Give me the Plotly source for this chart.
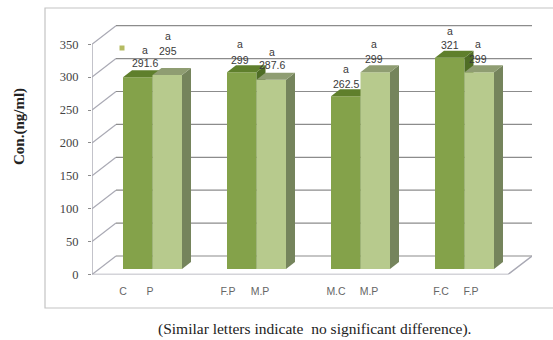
import plotly.graph_objects as go

# Hormone concentration per comparison group
group_count = 4
control_labels = ["C", "F.P", "M.C", "F.C"]
control_values = [291.6, 299, 262.5, 321]
treated_labels = ["P", "M.P", "M.P", "F.P"]
treated_values = [295, 287.6, 299, 299]
sig_letters = ["a", "a", "a", "a"]
y_ticks = [0, 50, 100, 150, 200, 250, 300, 350]

# Canvas and plot geometry, in pixels
W, H = 553, 340
LEFT, RIGHT, BOTTOM, TOP = 92, 532, 274.5, 25
PX_PER_GROUP = 104
PX_PER_UNIT = 32.9 / 50
x_span = (RIGHT - LEFT) / PX_PER_GROUP
y_span = (BOTTOM - TOP) / PX_PER_UNIT


def dx(px):
    return px / PX_PER_GROUP


def dy(px):
    return px / PX_PER_UNIT


# Pseudo-3D depth of the walls and of the bars
WALL_DX, WALL_DY = dx(24), dy(18.5)
BAR_DX, BAR_DY = dx(9), dy(7)
BAR_BASE = dy(5.5)
BAR_WIDTH = dx(29.5)
CENTERS = [0.5 + dx(8.5) + i for i in range(group_count)]
ctrl_x = [c - BAR_WIDTH / 2 for c in CENTERS]
trt_x = [c + BAR_WIDTH / 2 for c in CENTERS]

GRID = "#8c8c8c"
WALL = "#a9a9b4"
FRONT_1, TOP_1, SIDE_1 = "#84a24a", "#5f7f2c", "#4f6d25"
FRONT_2, TOP_2, SIDE_2 = "#b7ca8d", "#8f9d72", "#75845c"


def poly(xs, ys, color, xa, ya):
    return go.Scatter(x=xs, y=ys, mode="lines", fill="toself", fillcolor=color,
                      line=dict(width=0, color=color), hoverinfo="skip",
                      showlegend=False, xaxis=xa, yaxis=ya)


def seg(xs, ys, color, width=1.2):
    return go.Scatter(x=xs, y=ys, mode="lines", line=dict(color=color, width=width),
                      hoverinfo="skip", showlegend=False)


fig = go.Figure()

# Back wall gridlines, side wall diagonals, floor outline
for t in y_ticks:
    fig.add_trace(seg([0, WALL_DX], [t, t + WALL_DY], WALL))
    fig.add_trace(seg([WALL_DX, x_span], [t + WALL_DY, t + WALL_DY], GRID))
fig.add_trace(seg([0, 0], [0, 350], WALL, 1.4))
fig.add_trace(seg([0, group_count, x_span], [0, 0, WALL_DY], WALL, 1.4))


def add_series(xs, values, front, top, side, xa, ya, name):
    fig.add_trace(go.Bar(x=xs, y=values, base=BAR_BASE, width=BAR_WIDTH, marker_color=front,
                         marker_line_width=0, name=name, showlegend=False,
                         xaxis=xa, yaxis=ya))
    for x, v in zip(xs, values):
        l, r = x - BAR_WIDTH / 2, x + BAR_WIDTH / 2
        t = BAR_BASE + v
        fig.add_trace(poly([r, r + BAR_DX, r + BAR_DX, r, r],
                           [BAR_BASE, BAR_BASE + BAR_DY, t + BAR_DY, t, BAR_BASE], side, xa, ya))
        fig.add_trace(poly([l, l + BAR_DX, r + BAR_DX, r, l],
                           [t, t + BAR_DY, t + BAR_DY, t, t], top, xa, ya))


# Each series sits on its own overlaid axes so the second one covers the first
add_series(ctrl_x, control_values, FRONT_1, TOP_1, SIDE_1, "x2", "y2", "Control")
add_series(trt_x, treated_values, FRONT_2, TOP_2, SIDE_2, "x3", "y3", "Treated")

# Value labels and significance letters above each bar
LABEL_FONT = dict(family="Liberation Sans", size=10.5, color="#3a3a3a")
ctrl_nudge = [(7, 14), (-2, 12), (0, 12), (0, 13)]
trt_nudge = [(1, 24), (1, 15), (-1, 13), (-1, 13)]
ctrl_letter_up = [13, 16, 15, 14]
trt_letter_up = [15, 13, 15, 15]
annotations = []
for xs, vals, nudges, ups in ((ctrl_x, control_values, ctrl_nudge, ctrl_letter_up),
                              (trt_x, treated_values, trt_nudge, trt_letter_up)):
    for x, v, (sx, sy), up, letter in zip(xs, vals, nudges, ups, sig_letters):
        annotations.append(dict(x=x, y=BAR_BASE + v, text=str(v), showarrow=False, font=LABEL_FONT,
                                xshift=sx, yshift=sy))
        annotations.append(dict(x=x, y=BAR_BASE + v, text=letter, showarrow=False, font=LABEL_FONT,
                                xshift=sx, yshift=sy + up))

SERIF = "Liberation Serif"
annotations.append(dict(x=19 / W, y=1 - 127 / H, xref="paper", yref="paper", text="<b>Con.(ng/ml)</b>",
                        xanchor="center", yanchor="middle", textangle=-90, showarrow=False,
                        font=dict(family=SERIF, size=15, color="#222")))
annotations.append(dict(x=314.5 / W, y=1 - 329 / H, xref="paper", yref="paper",
                        text="(Similar letters indicate  no significant difference).",
                        xanchor="center", yanchor="middle", showarrow=False,
                        font=dict(family=SERIF, size=15.5, color="#222")))

# Category captions sit slightly left of their bars
tick_px = [123, 150, 228, 260, 336, 369, 441, 471]
tick_vals = [(p - LEFT) / PX_PER_GROUP for p in tick_px]
tick_text = [t for pair in zip(control_labels, treated_labels) for t in pair]

domain_x = [LEFT / W, RIGHT / W]
domain_y = [1 - BOTTOM / H, 1 - TOP / H]
hidden_x = dict(domain=domain_x, range=[0, x_span], visible=False, fixedrange=True)
hidden_y = dict(domain=domain_y, range=[0, y_span], visible=False, fixedrange=True)

fig.update_layout(
    width=W, height=H, margin=dict(l=0, r=0, t=0, b=0, pad=0, autoexpand=False),
    paper_bgcolor="white", plot_bgcolor="rgba(0,0,0,0)", showlegend=False,
    barmode="overlay", annotations=annotations,
    xaxis=dict(domain=domain_x, range=[0, x_span], tickvals=tick_vals, ticktext=tick_text,
               showgrid=False, zeroline=False, ticks="outside", ticklen=7, automargin=False,
               tickcolor="rgba(0,0,0,0)", tickfont=dict(family="Liberation Sans", size=10.5, color="#666"),
               tickangle=0, fixedrange=True),
    yaxis=dict(domain=domain_y, range=[0, y_span], tickvals=y_ticks, showgrid=False, zeroline=False,
               ticks="outside", ticklen=3, tickcolor="#8c8c8c", ticklabelstandoff=7, automargin=False,
               tickfont=dict(family="Liberation Serif", size=12.5, color="#444"), fixedrange=True),
    xaxis2=dict(overlaying="x", **hidden_x),
    yaxis2=dict(overlaying="y", **hidden_y),
    xaxis3=dict(overlaying="x", **hidden_x),
    yaxis3=dict(overlaying="y", **hidden_y),
    shapes=[
        dict(type="rect", xref="paper", yref="paper", x0=45 / W, x1=1.02, y0=1 - 308 / H, y1=1 - 8 / H,
             line=dict(color="#c4c4c4", width=1.2), layer="below"),
        dict(type="rect", xref="paper", yref="paper", x0=119.5 / W, x1=124.5 / W,
             y0=1 - 50.5 / H, y1=1 - 45.5 / H, line_width=0, fillcolor="#b5bb62"),
    ],
)

fig.write_html("out.html")
